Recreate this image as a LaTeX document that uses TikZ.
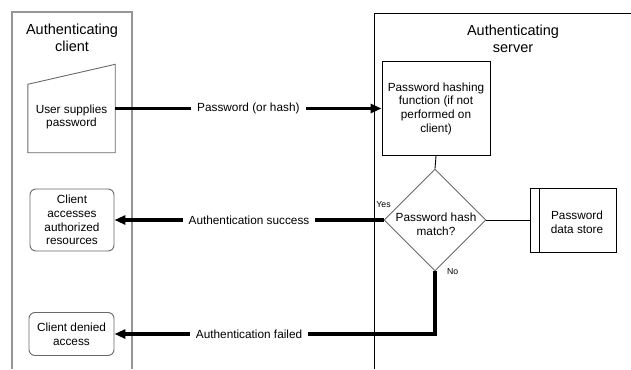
\documentclass[tikz,border=0pt]{standalone}
\usepackage{fontspec}
\setmainfont{Liberation Sans}
\usetikzlibrary{arrows.meta,positioning,shapes.geometric}
\definecolor{lanegray}{RGB}{150,150,150}
\definecolor{boxgray}{RGB}{105,105,105}
\begin{document}
\begin{tikzpicture}[x=1pt,y=-1pt,
  txt/.style={align=center,font=\fontsize{11.8}{13.7}\selectfont,inner sep=0pt},
  lanetitle/.style={align=center,font=\fontsize{14.5}{17}\selectfont,inner sep=0pt},
  cbox/.style={txt,draw=boxgray,line width=0.9pt,rounded corners=6pt},
  flow/.style={line width=3.6pt,-{Triangle[length=11pt,width=9pt]}},
  lbl/.style={txt,fill=white,inner xsep=6pt,inner ysep=2pt},
  yesno/.style={font=\fontsize{8.7}{10}\selectfont,inner sep=0pt}]
  \useasboundingbox (0,0) rectangle (631,369);
  % lanes
  \draw[lanegray,line width=1.3pt] (12,369) -- (12,12) -- (132,12) -- (132,369);
  \draw[line width=0.9pt] (374,369) -- (374,13) -- (631,13);
  \node[lanetitle] (clienttitle) at (72,38) {Authenticating\\client};
  \node[lanetitle] (servertitle) at (513,39) {Authenticating\\server};
  % client side
  \node[minimum width=87pt,minimum height=88pt,inner sep=0pt] (user) at (71.5,108.5) {};
  \draw[boxgray,line width=0.9pt] (user.south west) -- (user.south east) -- (user.north east) -- ([yshift=-20pt]user.north west) -- cycle;
  \node[txt] (usertxt) at (71.5,117) {User supplies\\password};
  \node[cbox,minimum width=84pt,minimum height=62pt] (access) at (72,220) {Client\\accesses\\authorized\\resources};
  \node[cbox,minimum width=85pt,minimum height=43pt] (denied) at (71.5,334) {Client denied\\access};
  % server side
  \node[txt,draw,line width=0.9pt,minimum width=108pt,minimum height=94pt] (hash) at (436,108.5) {Password hashing\\function (if not\\performed on\\client)};
  \node[diamond,draw=boxgray,line width=0.9pt,minimum width=102pt,minimum height=102pt,inner sep=0pt] (match) at (435,220) {};
  \node[txt] (matchtxt) at (436,224) {Password hash\\match?};
  \node[draw,line width=0.9pt,minimum width=86pt,minimum height=64pt] (store) at (573,220) {};
  \draw[line width=0.9pt] ([xshift=10pt]store.north west) -- ([xshift=10pt]store.south west);
  \node[txt] (storetxt) at (577,222) {Password\\data store};
  \node[yesno,above=12pt of match.west] (yes) {Yes};
  \node[yesno,right=12pt of match.south] (no) {No};
  % connectors
  \draw[flow] (user.east) -- node[lbl] {Password (or hash)} (hash.west);
  \draw[flow] (match.west) -- node[lbl] {Authentication success} (access.east);
  \draw[flow] (match.south) |- node[lbl,pos=0.79] {Authentication failed} (denied.east);
  \draw[line width=0.9pt] (hash.south) -- (match.north);
  \draw[line width=0.9pt] (match.east) -- (store.west);
\end{tikzpicture}
\end{document}
